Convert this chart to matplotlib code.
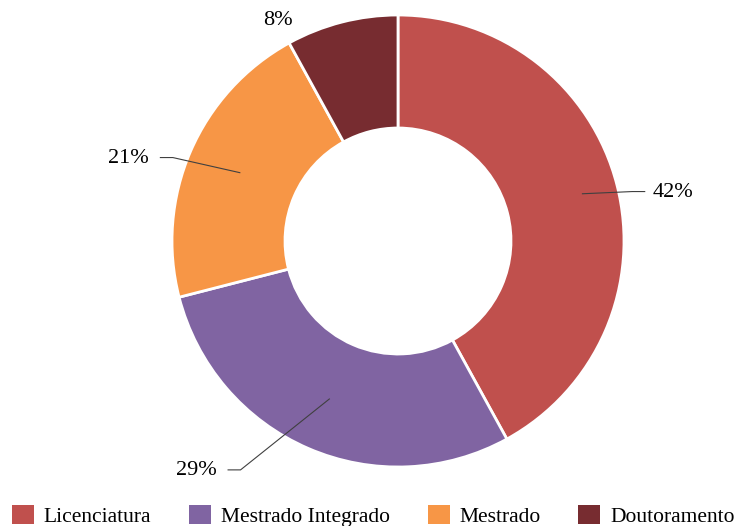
import numpy as np
import matplotlib
matplotlib.use("Agg")
import matplotlib.pyplot as plt
from matplotlib.patches import Rectangle

plt.rcParams['font.family'] = ['Liberation Serif', 'DejaVu Serif']

categories = ["Licenciatura", "Mestrado Integrado", "Mestrado", "Doutoramento"]
values = [42, 29, 21, 8]
colors = ["#C0504D", "#8064A2", "#F79646", "#772C30"]

W, H = 734, 526
fig = plt.figure(figsize=(W / 100, H / 100), dpi=100)
ax = fig.add_axes([0, 0, 1, 1])
ax.set_xlim(0, W)
ax.set_ylim(0, H)
ax.axis('off')

cx, cy, R = 398, H - 241, 226
wedges, _ = ax.pie(values, colors=colors, startangle=90, counterclock=False,
                   center=(cx, cy), radius=R,
                   wedgeprops=dict(width=R * 0.5, edgecolor='white', linewidth=2))
ax.set_xlim(0, W)
ax.set_ylim(0, H)
ax.set_aspect('equal')

# label placement (polar offsets from centre, in pixels / degrees)
label_r = [279, 306, 282, 251]
label_ang = [10.0, -131.3, 163.0, 118.5]
start_r = [0.84, 0.76, 0.76, None]
fs = 16
for w, v, lr, la, sr in zip(wedges, values, label_r, label_ang, start_r):
    mid = np.deg2rad((w.theta1 + w.theta2) / 2)
    tx = cx + lr * np.cos(np.deg2rad(la))
    ty = cy + lr * np.sin(np.deg2rad(la))
    txt = f"{v}%"
    right = np.cos(np.deg2rad(la)) > 0.2
    ax.text(tx, ty, txt, ha='center', va='center', fontsize=fs, color='black')
    if sr is None:
        continue
    half = 20.5
    if right:
        h0 = tx - half - 7
        h1 = h0 - 13
    else:
        h0 = tx + half + 11
        h1 = h0 + 13
    sx = cx + sr * R * np.cos(mid)
    sy = cy + sr * R * np.sin(mid)
    ax.plot([h0, h1, sx], [ty + 1, ty + 1, sy], color='#404040', lw=0.8,
            solid_capstyle='butt')

lfs = 15.5
handles = [Rectangle((0, 0), 1, 1, facecolor=c, edgecolor='none') for c in colors]
fig.legend(handles, categories, loc='center left',
           bbox_to_anchor=(12 / W, 10 / H), ncol=4, frameon=False,
           fontsize=lfs, handlelength=1.02, handleheight=1.0,
           handletextpad=0.46, columnspacing=1.75, borderpad=0,
           borderaxespad=0)

fig.savefig("out.png", dpi=100)
